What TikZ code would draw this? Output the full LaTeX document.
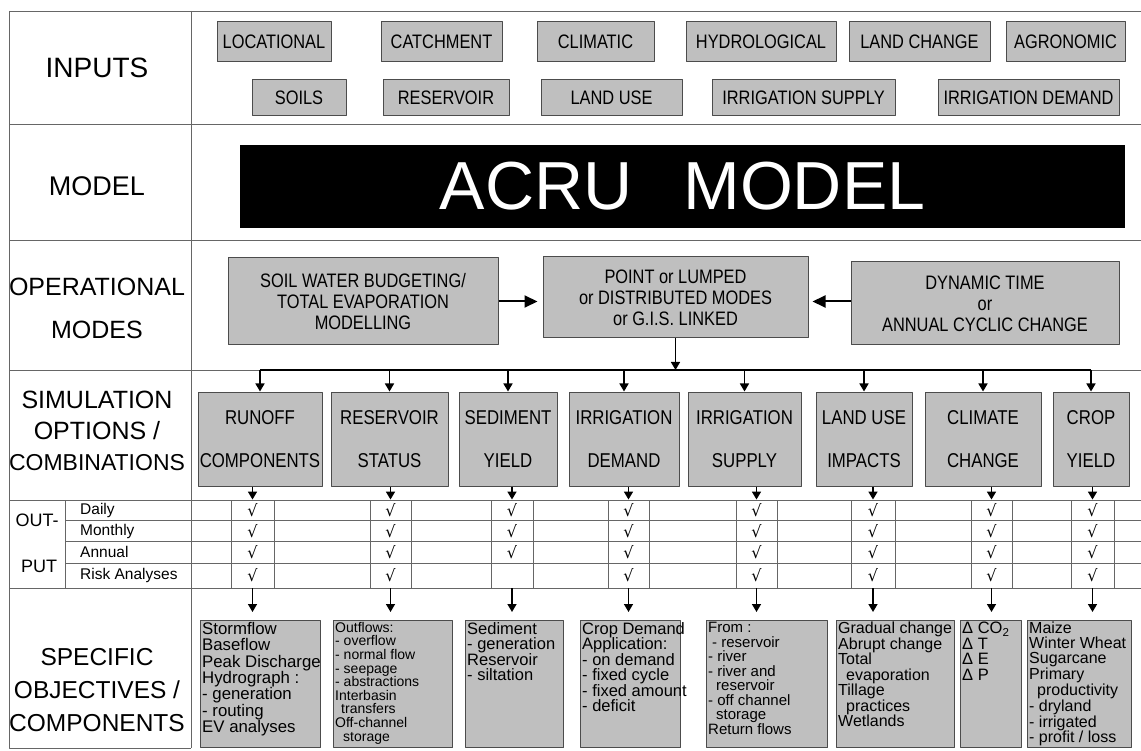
\documentclass[tikz,border=0pt]{standalone}
\usepackage{fontspec}
\setmainfont{Liberation Sans}
\newfontfamily\capsfont[FakeStretch=0.84]{Liberation Sans}
\newfontfamily\symfont{DejaVu Sans}
\usetikzlibrary{arrows.meta}

\tikzset{
  rule/.style={draw=black!60, line width=0.9pt},
  inbox/.style={draw=black!70, fill=black!25, line width=1pt, inner sep=0pt,
    font=\capsfont\fontsize{19.5}{21}\selectfont},
  opbox/.style={inbox, align=center},
  simbox/.style={inbox, align=center, font=\capsfont\fontsize{20}{43}\selectfont},
  tickcol/.style={draw=black!60, line width=0.9pt, inner sep=0pt},
  tick/.style={font=\symfont\fontsize{16}{16}\selectfont, inner sep=0pt},
  objbox/.style={draw=black!70, fill=black!25, line width=1pt, anchor=north west, inner sep=0pt},
  objtext/.style={anchor=north west, align=left, inner sep=2pt, font=\fontsize{16.5}{15.5}\selectfont},
  rowlabel/.style={align=center, font=\fontsize{25}{25}\selectfont},
  outlabel/.style={anchor=west, inner sep=0pt, font=\fontsize{15.5}{16}\selectfont},
  flow/.style={-{Triangle[length=8pt,width=9pt]}, line width=1.6pt},
  bigflow/.style={-{Triangle[length=13pt,width=12pt]}, line width=2pt},
}

\begin{document}
\begin{tikzpicture}[x=1pt, y=-1pt, line join=round]
\useasboundingbox[fill=white] (0,0) rectangle (1141,751);
% frame and rows
\draw[rule] (9,11) -- (1141,11);
\draw[rule] (9,11) -- (9,748) -- (191,748);
\draw[rule] (191,11) -- (191,748);
\foreach \y in {124,240,370,500,588} \draw[rule] (9,\y) -- (1141,\y);
\foreach \y in {520,541,563} \draw[rule] (65,\y) -- (1141,\y);
\draw[rule] (65,500) -- (65,588);
\coordinate (bus) at (0,370);
\coordinate (outx) at (80,0);
\coordinate (rD) at (0,510); \coordinate (rM) at (0,531);
\coordinate (rA) at (0,552); \coordinate (rR) at (0,575);

% left column
\node[rowlabel, font=\fontsize{28}{28}\selectfont] (lInputs) at (97,68) {INPUTS};
\node[rowlabel, font=\fontsize{27}{27}\selectfont] (lModel) at (97,186) {MODEL};
\node[rowlabel, font=\fontsize{25}{43}\selectfont] (lModes) at (97,308) {OPERATIONAL\\MODES};
\node[rowlabel, font=\fontsize{25}{31}\selectfont] (lSim) at (97,431)
  {SIMULATION\\OPTIONS /\\\fontsize{23}{31}\selectfont COMBINATIONS};
\node[rowlabel, font=\fontsize{18}{18}\selectfont] (lOut) at (37,520) {OUT-};
\node[rowlabel, font=\fontsize{18}{18}\selectfont] (lPut) at (39,566) {PUT};
\node[outlabel] (lDaily) at (outx |- rD) {Daily};
\node[outlabel] (lMonthly) at (outx |- rM) {Monthly};
\node[outlabel] (lAnnual) at (outx |- rA) {Annual};
\node[outlabel] (lRisk) at (outx |- rR) {Risk Analyses};
\node[rowlabel, font=\fontsize{24.5}{33}\selectfont] (lObj) at (97,690)
  {SPECIFIC\\OBJECTIVES /\\COMPONENTS};

% inputs
\node[inbox, minimum width=114, minimum height=40] (locational) at (274,42) {LOCATIONAL};
\node[inbox, minimum width=121, minimum height=40] (catchment) at (441.5,42) {CATCHMENT};
\node[inbox, minimum width=117, minimum height=40] (climatic) at (595.5,42) {CLIMATIC};
\node[inbox, minimum width=150, minimum height=40] (hydrological) at (761,42) {HYDROLOGICAL};
\node[inbox, minimum width=141, minimum height=40] (landchange) at (919.5,42) {LAND CHANGE};
\node[inbox, minimum width=119, minimum height=40] (agronomic) at (1065.5,42) {AGRONOMIC};
\node[inbox, minimum width=94, minimum height=36] (soils) at (299,98) {SOILS};
\node[inbox, minimum width=126, minimum height=36] (reservoir) at (446,98) {RESERVOIR};
\node[inbox, minimum width=141, minimum height=36] (landuse) at (611.5,98) {LAND USE};
\node[inbox, minimum width=183, minimum height=36] (irrsupply) at (803.5,98) {IRRIGATION SUPPLY};
\node[inbox, minimum width=181, minimum height=36] (irrdemand) at (1028.5,98) {IRRIGATION DEMAND};

% model
\node[fill=black, text=white, minimum width=885, minimum height=83, inner sep=0pt,
  font=\fontsize{68}{68}\selectfont] (acru) at (682.5,186.5) {ACRU\hspace{0.75em}MODEL\hspace{20pt}};

% operational modes
\node[opbox, minimum width=270, minimum height=87] (swb) at (363,301.5)
  {SOIL WATER BUDGETING/\\TOTAL EVAPORATION\\MODELLING};
\node[opbox, minimum width=265, minimum height=81] (lumped) at (675.5,297.5)
  {POINT or LUMPED\\or DISTRIBUTED MODES\\or G.I.S. LINKED};
\node[opbox, minimum width=268, minimum height=83] (dynamic) at (985,303.5)
  {DYNAMIC TIME\\or\\ANNUAL CYCLIC CHANGE};
\draw[bigflow, shorten >=5pt] (swb.east) -- (swb.east -| lumped.west);
\draw[bigflow, shorten >=4pt] (dynamic.west |- swb.east) -- (swb.east -| lumped.east);
\draw[flow] (lumped.south) -- (lumped.south |- bus);

% simulation options
\node[simbox, minimum width=124, minimum height=94] (runoff) at (260,439) {RUNOFF\\COMPONENTS};
\node[simbox, minimum width=117, minimum height=94] (resstatus) at (389.5,439) {RESERVOIR\\STATUS};
\node[simbox, minimum width=98, minimum height=94] (sediment) at (508,439) {SEDIMENT\\YIELD};
\node[simbox, minimum width=110, minimum height=94] (irrdem) at (624,439) {IRRIGATION\\DEMAND};
\node[simbox, minimum width=113, minimum height=94] (irrsup) at (744.5,439) {IRRIGATION\\SUPPLY};
\node[simbox, minimum width=96, minimum height=94] (landimp) at (864,439) {LAND USE\\IMPACTS};
\node[simbox, minimum width=116, minimum height=94] (climate) at (983,439) {CLIMATE\\CHANGE};
\node[simbox, minimum width=76, minimum height=94] (crop) at (1091,439) {CROP\\YIELD};
\draw[line width=1.6pt] (runoff.north |- bus) -- (crop.north |- bus);
\foreach \s in {runoff,resstatus,sediment,irrdem,irrsup,landimp,climate,crop}
  \draw[flow] (\s.north |- bus) -- (\s.north);

% output columns
\node[tickcol, minimum width=43, minimum height=88] (col1) at (252.5,544) {};
\node[tickcol, minimum width=41, minimum height=88] (col2) at (390.5,544) {};
\node[tickcol, minimum width=42, minimum height=88] (col3) at (512,544) {};
\node[tickcol, minimum width=41, minimum height=88] (col4) at (628.5,544) {};
\node[tickcol, minimum width=41, minimum height=88] (col5) at (756.5,544) {};
\node[tickcol, minimum width=44, minimum height=88] (col6) at (873,544) {};
\node[tickcol, minimum width=41, minimum height=88] (col7) at (991.5,544) {};
\node[tickcol, minimum width=43, minimum height=88] (col8) at (1092.5,544) {};
\foreach \c in {1,...,8}
  \foreach \r in {rD,rM,rA} \node[tick] at (col\c |- \r) {√};
\foreach \c in {1,2,4,5,6,7,8} \node[tick] at (col\c |- rR) {√};
\foreach \s/\c in {runoff/1,resstatus/2,sediment/3,irrdem/4,irrsup/5,landimp/6,climate/7,crop/8}
  \draw[flow] (col\c |- \s.south) -- (col\c.north);

% specific objectives
\node[objbox, minimum width=120, minimum height=127] (obj1) at (200,620) {};
\node[objbox, minimum width=119, minimum height=127] (obj2) at (333,620) {};
\node[objbox, minimum width=98, minimum height=127] (obj3) at (465,620) {};
\node[objbox, minimum width=100, minimum height=127] (obj4) at (580,620) {};
\node[objbox, minimum width=121, minimum height=127] (obj5) at (706,620) {};
\node[objbox, minimum width=118, minimum height=127] (obj6) at (836,620) {};
\node[objbox, minimum width=61, minimum height=127] (obj7) at (960,620) {};
\node[objbox, minimum width=104, minimum height=127] (obj8) at (1027,620) {};
\foreach \c in {1,...,8}
  \draw[flow, shorten >=8pt] (col\c.south) -- (col\c.south |- obj\c.north);

\node[objtext, font=\fontsize{16.8}{16.4}\selectfont] (obj1t) at (obj1.north west)
  {Stormflow\\Baseflow\\Peak Discharge\\Hydrograph :\\- generation\\- routing\\EV analyses};
\node[objtext, font=\fontsize{14}{13.6}\selectfont] (obj2t) at (obj2.north west)
  {Outflows:\\- overflow\\- normal flow\\- seepage\\- abstractions\\Interbasin\\\hspace*{6pt}transfers\\Off-channel\\\hspace*{8pt}storage};
\node[objtext] (obj3t) at (obj3.north west)
  {Sediment\\- generation\\Reservoir\\- siltation};
\node[objtext] (obj4t) at (obj4.north west)
  {Crop Demand\\Application:\\- on demand\\- fixed cycle\\- fixed amount\\- deficit};
\node[objtext, font=\fontsize{15}{14.5}\selectfont] (obj5t) at (obj5.north west)
  {From :\\\hspace*{4pt}- reservoir\\- river\\- river and\\\hspace*{8pt}reservoir\\- off channel\\\hspace*{8pt}storage\\Return flows};
\node[objtext, font=\fontsize{16}{15.5}\selectfont] (obj6t) at (obj6.north west)
  {Gradual change\\Abrupt change\\Total\\\hspace*{8pt}evaporation\\Tillage\\\hspace*{8pt}practices\\Wetlands};
\node[objtext, font=\fontsize{16.5}{15.5}\selectfont] (obj7t) at (obj7.north west)
  {Δ CO\textsubscript{2}\\Δ T\\Δ E\\Δ P};
\node[objtext, font=\fontsize{16}{14.8}\selectfont] (obj8t) at (obj8.north west)
  {Maize\\Winter Wheat\\Sugarcane\\Primary\\\hspace*{8pt}productivity\\- dryland\\- irrigated\\- profit / loss};
\end{tikzpicture}
\end{document}
